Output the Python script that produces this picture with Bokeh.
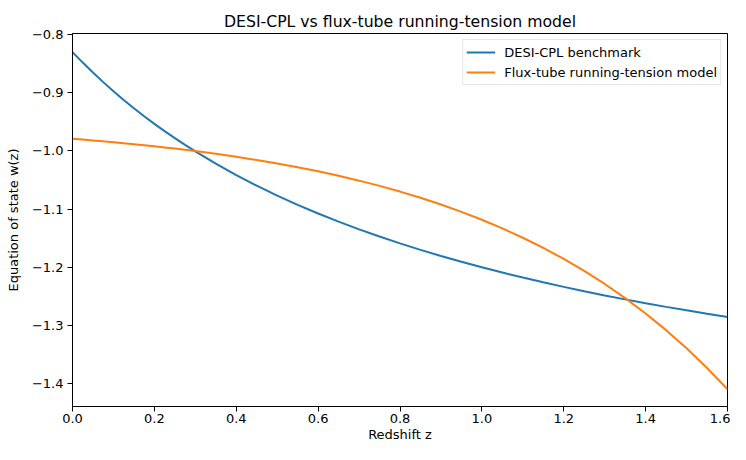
from bokeh.plotting import figure
from bokeh.models import Range1d, FixedTicker, CustomJSTickFormatter, Legend, LegendItem, ColumnDataSource
from bokeh.embed import file_html
from bokeh.resources import INLINE

# ---- data ----
redshift = [0.000, 0.025, 0.050, 0.075, 0.100, 0.125, 0.150, 0.175, 0.200,
            0.225, 0.250, 0.275, 0.30, 0.35, 0.40, 0.45, 0.50,
            0.55, 0.60, 0.65, 0.70, 0.75, 0.80, 0.85, 0.90, 0.95, 1.00, 1.05,
            1.10, 1.15, 1.20, 1.25, 1.30, 1.35, 1.40, 1.45, 1.50, 1.55, 1.60]
w_desi_cpl = [-0.8300, -0.8480, -0.8652, -0.8816, -0.8973, -0.9122, -0.9265,
              -0.9402, -0.9533, -0.9659, -0.9780, -0.9896, -1.0008,
              -1.0219, -1.0414, -1.0597, -1.0767, -1.0926, -1.1075, -1.1215,
              -1.1347, -1.1471, -1.1589, -1.1700, -1.1805, -1.1905, -1.2000,
              -1.2090, -1.2176, -1.2258, -1.2336, -1.2411, -1.2483, -1.2551,
              -1.2617, -1.2680, -1.2740, -1.2798, -1.2854]
w_flux_tube = [-0.9790, -0.9804, -0.9818, -0.9834, -0.9849, -0.9866, -0.9883,
               -0.9901, -0.9919, -0.9939, -0.9959, -0.9980, -1.0002,
               -1.0049, -1.0099, -1.0155, -1.0214, -1.0279, -1.0350, -1.0426,
               -1.0510, -1.0600, -1.0698, -1.0805, -1.0920, -1.1046, -1.1183,
               -1.1331, -1.1492, -1.1666, -1.1856, -1.2062, -1.2286, -1.2529,
               -1.2794, -1.3080, -1.3392, -1.3730, -1.4097]
series_labels = ["DESI-CPL benchmark", "Flux-tube running-tension model"]
series_colors = ["#1f77b4", "#ff7f0e"]
x_ticks = [0.0, 0.2, 0.4, 0.6, 0.8, 1.0, 1.2, 1.4, 1.6]
y_ticks = [-1.4, -1.3, -1.2, -1.1, -1.0, -0.9, -0.8]
title_text = "DESI-CPL vs flux-tube running-tension model"
x_label = "Redshift z"
y_label = "Equation of state w(z)"

FONT = "DejaVu Sans"

p = figure(width=730, height=444, output_backend="svg", toolbar_location=None,
           x_range=Range1d(0.0, 1.6), y_range=Range1d(-1.4393, -0.798),
           min_border_left=72, min_border_right=3, min_border_top=33,
           min_border_bottom=36, title=title_text)

p.title.align = "center"
p.title.text_font = FONT
p.title.text_font_size = "15.7px"
p.title.text_font_style = "normal"
p.title.text_color = "#000000"
p.title.standoff = 6

p.grid.visible = False
p.outline_line_color = "#000000"
p.outline_line_width = 1
p.background_fill_color = "white"
p.border_fill_color = "white"

for ax in (p.xaxis[0], p.yaxis[0]):
    ax.axis_line_color = "#000000"
    ax.major_tick_line_color = "#000000"
    ax.major_tick_out = 5
    ax.major_tick_in = 0
    ax.minor_tick_line_color = None
    ax.major_label_text_font = FONT
    ax.major_label_text_font_size = "13px"
    ax.major_label_text_color = "#000000"
    ax.axis_label_text_font = FONT
    ax.axis_label_text_font_size = "13px"
    ax.axis_label_text_font_style = "normal"
    ax.axis_label_text_color = "#000000"

p.xaxis.ticker = FixedTicker(ticks=x_ticks)
p.yaxis.ticker = FixedTicker(ticks=y_ticks)
p.xaxis.formatter = CustomJSTickFormatter(code="return tick.toFixed(1).replace('-', '\\u2212');")
p.yaxis.formatter = CustomJSTickFormatter(code="return tick.toFixed(1).replace('-', '\\u2212');")
p.xaxis.axis_label = x_label
p.yaxis.axis_label = y_label
p.xaxis.major_label_standoff = 2
p.yaxis.major_label_standoff = 4
p.xaxis.axis_label_standoff = 1
p.yaxis.axis_label_standoff = 8

src = ColumnDataSource(dict(z=redshift, a=w_desi_cpl, b=w_flux_tube))
r1 = p.line("z", "a", source=src, line_color=series_colors[0], line_width=2)
r2 = p.line("z", "b", source=src, line_color=series_colors[1], line_width=2)

legend = Legend(items=[LegendItem(label=series_labels[0], renderers=[r1]),
                       LegendItem(label=series_labels[1], renderers=[r2])],
                location="top_right")
legend.margin = 6
legend.padding = 3
legend.spacing = 2
legend.glyph_width = 29
legend.glyph_height = 18
legend.label_height = 18
legend.label_standoff = 9
legend.label_text_font = FONT
legend.label_text_font_size = "13px"
legend.label_text_color = "#000000"
legend.border_line_color = "#d0d0d0"
legend.border_line_width = 1
legend.background_fill_alpha = 0.8
p.add_layout(legend, "center")

open("out.html", "w").write(file_html(p, INLINE))
